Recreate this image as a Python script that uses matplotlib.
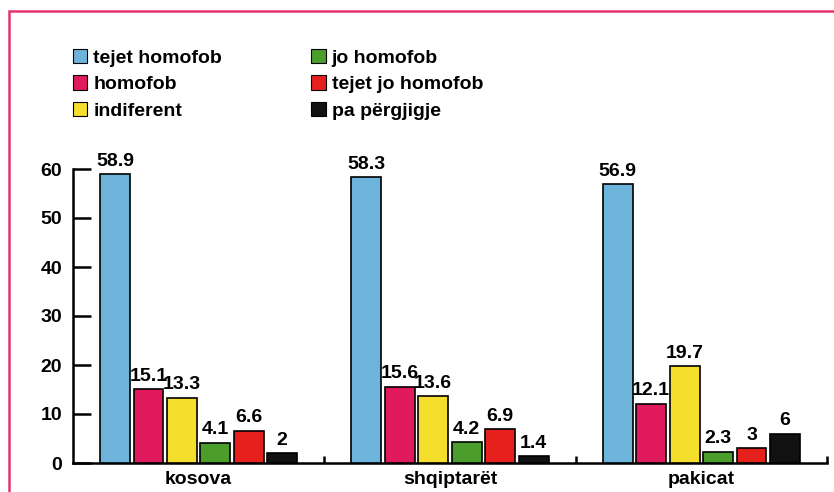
import numpy as np
import matplotlib
matplotlib.use('Agg')
import matplotlib.pyplot as plt
from matplotlib.patches import Rectangle

plt.rcParams['font.family'] = ['Liberation Sans Narrow', 'Liberation Sans', 'DejaVu Sans']
plt.rcParams['font.weight'] = 'bold'

groups = ['kosova', 'shqiptarët', 'pakicat']
series = ['tejet homofob', 'homofob', 'indiferent', 'jo homofob', 'tejet jo homofob', 'pa përgjigje']
values = [
    [58.9, 58.3, 56.9],   # tejet homofob
    [15.1, 15.6, 12.1],   # homofob
    [13.3, 13.6, 19.7],   # indiferent
    [4.1, 4.2, 2.3],      # jo homofob
    [6.6, 6.9, 3.0],      # tejet jo homofob
    [2.0, 1.4, 6.0],      # pa përgjigje
]
labels = [
    ['58.9', '58.3', '56.9'],
    ['15.1', '15.6', '12.1'],
    ['13.3', '13.6', '19.7'],
    ['4.1', '4.2', '2.3'],
    ['6.6', '6.9', '3'],
    ['2', '1.4', '6'],
]
colors = ['#6cb4da', '#e01a5c', '#f6df2c', '#4b9e2c', '#e6201c', '#111111']

fig = plt.figure(figsize=(8.34, 4.92), dpi=100)
ax = fig.add_axes([73 / 834, 29 / 492, 754 / 834, 294 / 492])

x = np.arange(len(groups))
pitch = 0.133
width = 0.119
handles = []
for i, (vals, lab, col) in enumerate(zip(values, labels, colors)):
    pos = x + (i - 2.5) * pitch
    b = ax.bar(pos, vals, width=width, color=col, edgecolor='black', linewidth=1.2, label=series[i], zorder=3)
    handles.append(b)
    for p, v, t in zip(pos, vals, lab):
        ax.text(p, v + 0.9, t, ha='center', va='bottom', fontsize=14, clip_on=False)

ax.set_xlim(-0.5, 2.5)
ax.set_ylim(0, 60)
ax.set_yticks([0, 10, 20, 30, 40, 50, 60])
ax.tick_params(axis='y', direction='in', length=13, width=1.8, labelsize=14, pad=8)
ax.set_xticks(x)
ax.set_xticklabels(groups, fontsize=14)
ax.tick_params(axis='x', which='major', length=0, pad=6)
ax.set_xticks([0.5, 1.5, 2.5], minor=True)
ax.tick_params(axis='x', which='minor', direction='in', length=5, width=1.8)

for s in ['top', 'right']:
    ax.spines[s].set_visible(False)
ax.spines['left'].set_bounds(0, 60)
ax.spines['left'].set_linewidth(1.8)
ax.spines['bottom'].set_linewidth(1.8)

leg = fig.legend(handles=handles, labels=series, ncol=2, loc='upper left',
                 bbox_to_anchor=(63 / 834, 1 - 39 / 492), frameon=False, fontsize=14,
                 handlelength=0.75, handleheight=0.75, handletextpad=0.3,
                 labelspacing=0.45, columnspacing=4.6, borderpad=0)
for h in leg.legend_handles:
    h.set_linewidth(0.8)

# pink frame around the figure
fig.patches.append(Rectangle((9 / 834, -0.1), 1.0, 1 - 11 / 492 + 0.1, transform=fig.transFigure,
                             fill=False, edgecolor='#e3346e', linewidth=1.8))

fig.savefig('out.png', dpi=100)
